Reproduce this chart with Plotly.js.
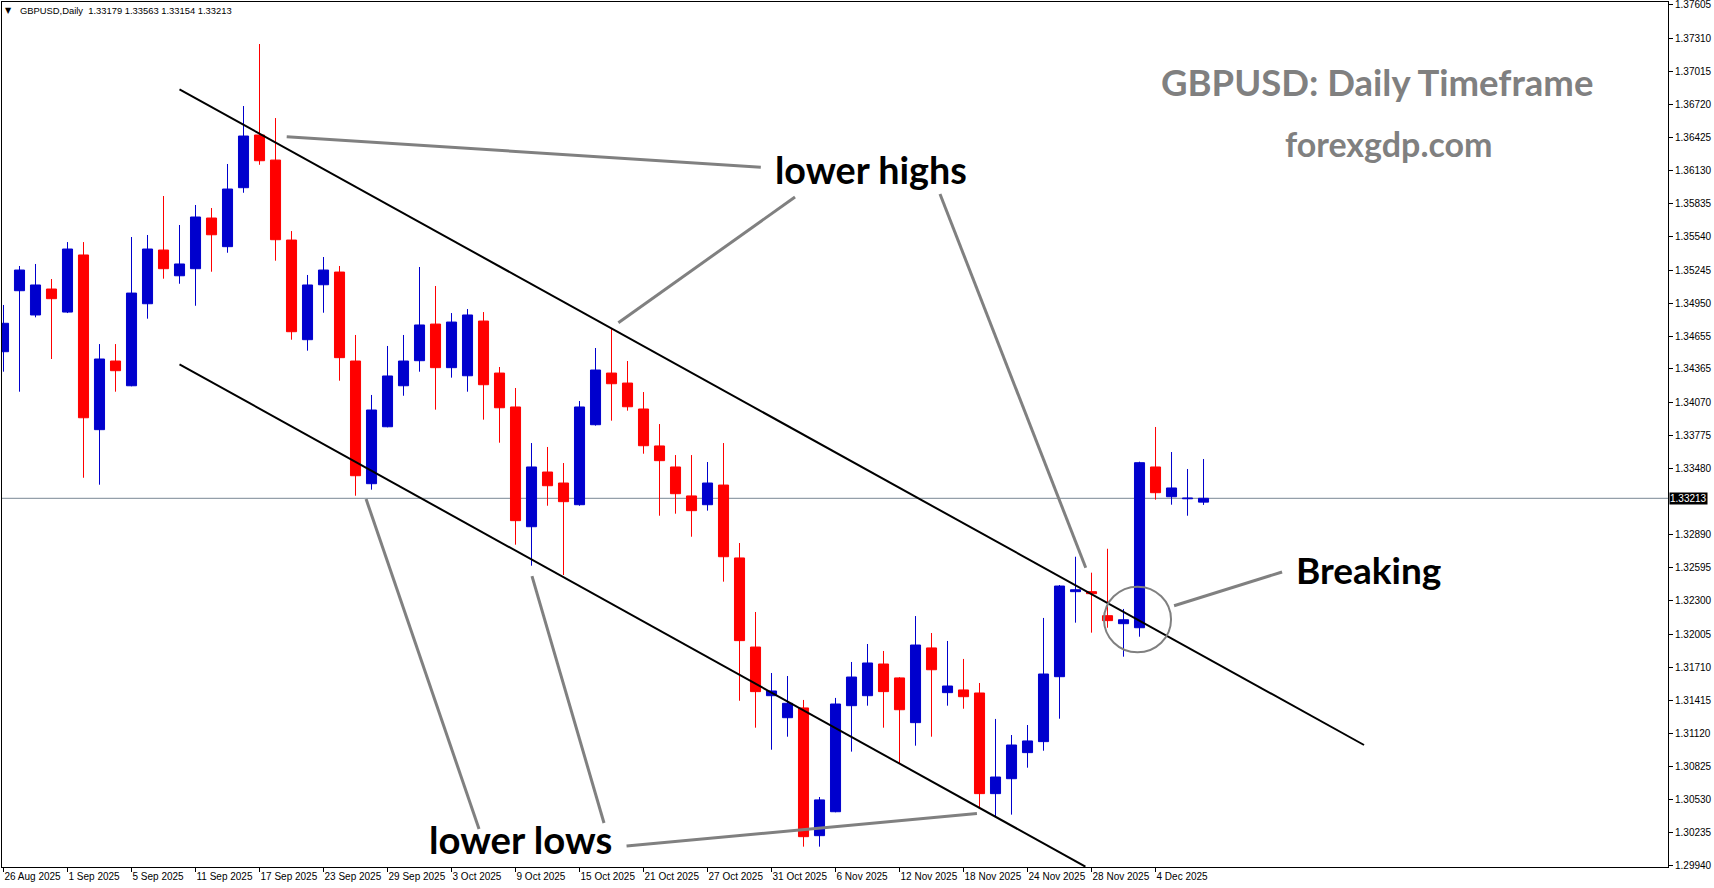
<!DOCTYPE html>
<html><head><meta charset="utf-8">
<script src="https://cdn.plot.ly/plotly-3.0.1.min.js"></script>
<style>html,body{margin:0;padding:0;background:#fff;}#chart{width:1714px;height:888px;}</style>
</head><body><div id="chart"></div>
<script>
const symbol = "GBPUSD";
const timeframe = "Daily";
const dates = [
 "26 Aug 2025","27 Aug 2025","28 Aug 2025","29 Aug 2025",
 "1 Sep 2025","2 Sep 2025","3 Sep 2025","4 Sep 2025","5 Sep 2025",
 "8 Sep 2025","9 Sep 2025","10 Sep 2025","11 Sep 2025","12 Sep 2025",
 "15 Sep 2025","16 Sep 2025","17 Sep 2025","18 Sep 2025","19 Sep 2025",
 "22 Sep 2025","23 Sep 2025","24 Sep 2025","25 Sep 2025","26 Sep 2025",
 "29 Sep 2025","30 Sep 2025","1 Oct 2025","2 Oct 2025","3 Oct 2025",
 "6 Oct 2025","7 Oct 2025","8 Oct 2025","9 Oct 2025","10 Oct 2025",
 "13 Oct 2025","14 Oct 2025","15 Oct 2025","16 Oct 2025","17 Oct 2025",
 "20 Oct 2025","21 Oct 2025","22 Oct 2025","23 Oct 2025","24 Oct 2025",
 "27 Oct 2025","28 Oct 2025","29 Oct 2025","30 Oct 2025","31 Oct 2025",
 "3 Nov 2025","4 Nov 2025","5 Nov 2025","6 Nov 2025","7 Nov 2025",
 "10 Nov 2025","11 Nov 2025","12 Nov 2025","13 Nov 2025","14 Nov 2025",
 "17 Nov 2025","18 Nov 2025","19 Nov 2025","20 Nov 2025","21 Nov 2025",
 "24 Nov 2025","25 Nov 2025","26 Nov 2025","27 Nov 2025","28 Nov 2025",
 "1 Dec 2025","2 Dec 2025","3 Dec 2025","4 Dec 2025","5 Dec 2025",
 "8 Dec 2025","9 Dec 2025"];
const open = [1.34518,1.35061,1.34845,1.35076,1.34871,1.35379,1.33824,1.34435,1.34215,1.34945,
 1.35423,1.35194,1.35257,1.35708,1.35453,1.35978,1.36447,1.36224,1.35512,1.34625,
 1.35114,1.35227,1.34435,1.33343,1.33850,1.34215,1.34438,1.34764,1.34376,1.34304,
 1.34791,1.34328,1.34026,1.32960,1.33447,1.33349,1.33156,1.33868,1.34328,1.34239,
 1.34008,1.33679,1.33492,1.33234,1.33156,1.33331,1.32682,1.31889,1.31456,1.31260,
 1.31347,1.30210,1.30423,1.31367,1.31456,1.31738,1.31614,1.31216,1.31881,1.31483,
 1.31507,1.31480,1.30584,1.30717,1.30949,1.31047,1.31625,1.32382,1.32382,1.32168,
 1.32097,1.32061,1.33492,1.33227,1.33209,1.33179];
const high = [1.34934,1.35281,1.35299,1.35165,1.35494,1.35494,1.34586,1.34586,1.35539,1.35557,
 1.35904,1.35646,1.35824,1.35797,1.36189,1.36705,1.37257,1.36598,1.35592,1.35201,
 1.35361,1.35281,1.34667,1.34133,1.34569,1.34667,1.35272,1.35103,1.34862,1.34898,
 1.34871,1.34382,1.34195,1.33705,1.33670,1.33527,1.34079,1.34551,1.34720,1.34435,
 1.34159,1.33874,1.33598,1.33598,1.33536,1.33705,1.32815,1.32201,1.31658,1.31631,
 1.31418,1.30554,1.31436,1.31756,1.31916,1.31854,1.31620,1.32165,1.32014,1.31943,
 1.31783,1.31569,1.31249,1.31106,1.31195,1.32148,1.32441,1.32693,1.32551,1.32764,
 1.32228,1.33539,1.33848,1.33625,1.33474,1.33563];
const low = [1.34340,1.34162,1.34824,1.34453,1.34862,1.33396,1.33334,1.34162,1.34210,1.34812,
 1.35168,1.35123,1.34927,1.35230,1.35399,1.35933,1.36182,1.35328,1.34625,1.34527,
 1.34865,1.34260,1.33236,1.33290,1.33845,1.34126,1.34340,1.34002,1.34287,1.34162,
 1.33913,1.33708,1.32800,1.32613,1.33147,1.32530,1.33147,1.33860,1.33904,1.33993,
 1.33610,1.33058,1.33076,1.32871,1.33103,1.32471,1.31411,1.31171,1.30975,1.31091,
 1.30112,1.30112,1.30418,1.30958,1.31367,1.31171,1.30851,1.31011,1.31091,1.31367,
 1.31340,1.30459,1.30379,1.30397,1.30815,1.30966,1.31251,1.32106,1.32017,1.32061,
 1.31803,1.31981,1.33201,1.33156,1.33058,1.33154];
const close = [1.34771,1.35245,1.35112,1.34990,1.35432,1.33930,1.34453,1.34349,1.35040,1.35432,
 1.35257,1.35299,1.35717,1.35559,1.35966,1.36438,1.36218,1.35515,1.34696,1.35112,
 1.35245,1.34465,1.33414,1.33999,1.34302,1.34435,1.34756,1.34376,1.34782,1.34845,
 1.34224,1.34019,1.33014,1.33492,1.33325,1.33183,1.34026,1.34355,1.34233,1.34028,
 1.33681,1.33548,1.33254,1.33103,1.33349,1.32693,1.31946,1.31492,1.31498,1.31388,
 1.30201,1.30528,1.31382,1.31622,1.31747,1.31492,1.31331,1.31907,1.31687,1.31542,
 1.31447,1.30584,1.30732,1.31017,1.31053,1.31649,1.32432,1.32399,1.32364,1.32124,
 1.32132,1.33530,1.33263,1.33305,1.33216,1.33213];
const yTicks = [1.37605,1.37310,1.37015,1.36720,1.36425,1.36130,1.35835,1.35540,1.35245,1.34950,
 1.34655,1.34365,1.34070,1.33775,1.33480,1.32890,1.32595,1.32300,1.32005,
 1.31710,1.31415,1.31120,1.30825,1.30530,1.30235,1.29940];
const xTickEvery = 4;
// drawn objects: [x0(bar index), price0, x1, price1]
const channelLines = [[11, 1.36854, 85.03, 1.31017], [11, 1.34406, 67.62, 1.29934]];
const pointerLines = [
 [17.70, 1.36432, 47.33, 1.36160], [38.43, 1.34776, 49.47, 1.35895], [58.53, 1.35922, 67.64, 1.32595],
 [22.66, 1.33207, 29.72, 1.30269], [33.03, 1.32521, 37.53, 1.30323], [38.94, 1.30118, 60.84, 1.30407],
 [73.16, 1.32257, 79.91, 1.32557]];
const breakCircle = [68.78, 1.31842, 72.97, 1.32426];
const labels = [
 {text: "lower highs", x: 54.2, y: 1.36140, size: 37.7, color: "#000"},
 {text: "lower lows", x: 32.31, y: 1.30180, size: 38.3, color: "#000"},
 {text: "Breaking", x: 85.34, y: 1.32575, size: 37, color: "#000"},
 {text: "GBPUSD: Daily Timeframe", x: 85.84, y: 1.36920, size: 36.5, color: "#808080"},
 {text: "forexgdp.com", x: 86.59, y: 1.36370, size: 34, color: "#808080"}];

const UP = '#0000CD', DN = '#FF0000';
const idx = dates.map((d, i) => i);
const isUp = idx.map(i => close[i] >= open[i]);
const colors = isUp.map(u => u ? UP : DN);
function wicks(up) {
  const xs = [], ys = [];
  idx.forEach(i => { if (isUp[i] === up) { xs.push(i, i, null); ys.push(low[i], high[i], null); } });
  return {type: 'scatter', mode: 'lines', x: xs, y: ys, line: {color: up ? UP : DN, width: 1}, hoverinfo: 'skip', connectgaps: false};
}
const bodies = {type: 'bar', x: idx, base: open, y: idx.map(i => close[i] - open[i]), width: 0.63,
  marker: {color: colors, line: {color: colors, width: 1}}, hoverinfo: 'skip'};
const last = dates.length - 1;
const fmt = v => v.toFixed(5);
const tickIdx = idx.filter(i => i % xTickEvery === 0);
const axFont = {family: 'Liberation Sans, Arial, sans-serif', size: 10, color: '#000'};

const shapes = [];
shapes.push({type: 'line', xref: 'paper', x0: 0, x1: 1, yref: 'y', y0: close[last], y1: close[last], line: {color: '#7a8794', width: 1}, layer: 'below'});
channelLines.forEach(l => shapes.push({type: 'line', x0: l[0], y0: l[1], x1: l[2], y1: l[3], line: {color: '#000', width: 2}, layer: 'above'}));
pointerLines.forEach(l => shapes.push({type: 'line', x0: l[0], y0: l[1], x1: l[2], y1: l[3], line: {color: '#808080', width: 3}, layer: 'above'}));
shapes.push({type: 'circle', x0: breakCircle[0], y0: breakCircle[1], x1: breakCircle[2], y1: breakCircle[3], line: {color: '#808080', width: 2}, layer: 'above'});

const annotations = labels.map(a => ({x: a.x, y: a.y, text: '<b>' + a.text + '</b>', showarrow: false, xanchor: 'center', yanchor: 'middle', font: {family: 'Lato, sans-serif', size: a.size, color: a.color}}));
annotations.push({xref: 'paper', x: 1, xanchor: 'left', xshift: 1, yref: 'y', y: close[last], yanchor: 'middle', text: fmt(close[last]), showarrow: false, bgcolor: '#000', borderpad: 0, font: {family: 'Liberation Sans, Arial, sans-serif', size: 10, color: '#fff'}});
annotations.push({xref: 'paper', yref: 'paper', x: 0.0042, y: 0.9896, xanchor: 'center', yanchor: 'middle', text: '\u25BC', showarrow: false, font: {family: 'DejaVu Sans', size: 8, color: '#000'}});
annotations.push({xref: 'paper', yref: 'paper', x: 0.0098, y: 0.9896, xanchor: 'left', yanchor: 'middle', showarrow: false,
  text: symbol + ',' + timeframe + '\u00A0\u00A0' + [open[last], high[last], low[last], close[last]].map(fmt).join(' '),
  font: {family: 'Liberation Sans, Arial, sans-serif', size: 9.4, color: '#000'}});

const layout = {
  width: 1714, height: 888, margin: {l: 2, r: 46, t: 2, b: 21},
  paper_bgcolor: '#fff', plot_bgcolor: '#fff', showlegend: false, hovermode: false, dragmode: false,
  xaxis: {range: [-0.094, 104.03], showgrid: false, zeroline: false, showline: true, linecolor: '#000', linewidth: 1, mirror: true,
    ticks: 'outside', ticklen: 4, tickcolor: '#000', tickvals: tickIdx, ticktext: tickIdx.map(i => dates[i]), tickfont: axFont,
    tickangle: 0, ticklabelposition: 'outside right', ticklabeloverflow: 'allow', fixedrange: true},
  yaxis: {side: 'right', range: [1.29931, 1.37631], showgrid: false, zeroline: false, showline: true, linecolor: '#000', linewidth: 1, mirror: true,
    ticks: 'outside', ticklen: 4, tickcolor: '#000', tickvals: yTicks, ticktext: yTicks.map(fmt), tickfont: axFont,
    ticklabeloverflow: 'allow', fixedrange: true},
  shapes: shapes, annotations: annotations
};
Plotly.newPlot('chart', [wicks(true), wicks(false), bodies], layout, {staticPlot: true, displayModeBar: false});
</script></body></html>
